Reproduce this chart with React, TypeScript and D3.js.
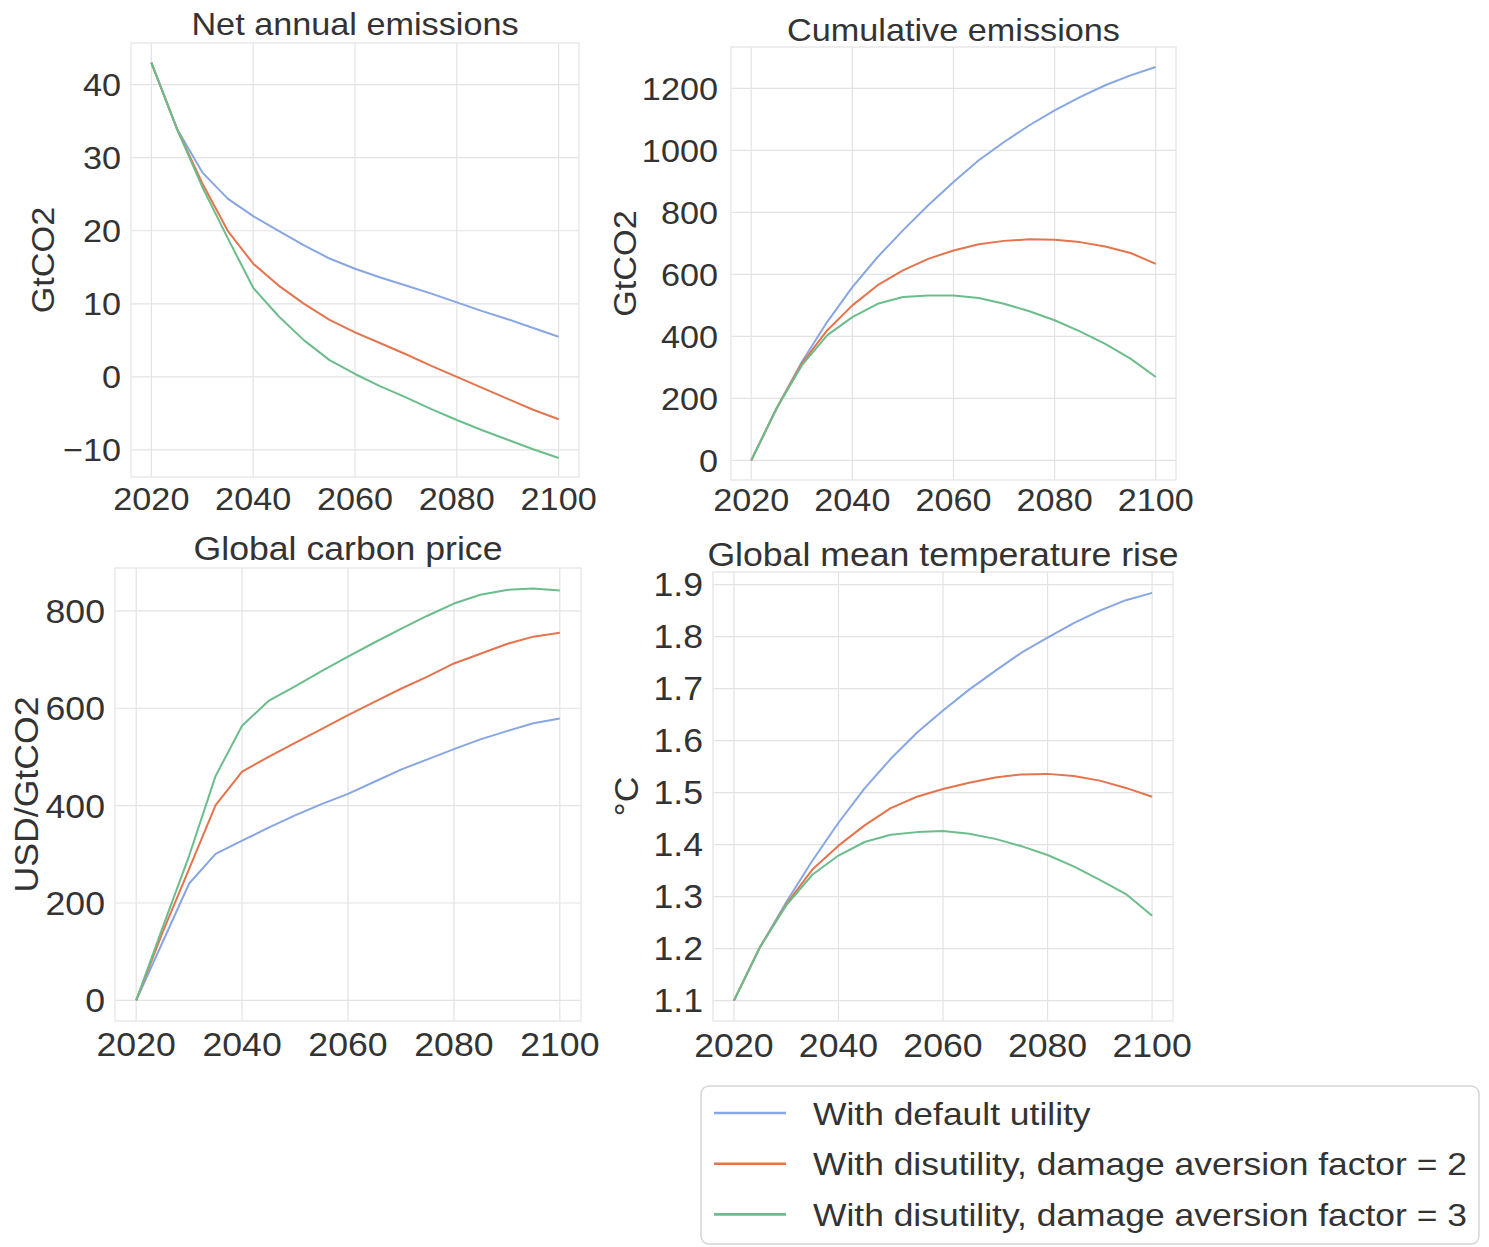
import React from "react";
import * as d3 from "d3";

const YEARS = [2020, 2025, 2030, 2035, 2040, 2045, 2050, 2055, 2060, 2065, 2070, 2075, 2080, 2085, 2090, 2095, 2100];
const X_TICKS = [2020, 2040, 2060, 2080, 2100];

const SERIES_NAMES = [
  "With default utility",
  "With disutility, damage aversion factor = 2",
  "With disutility, damage aversion factor = 3",
];
const SERIES_COLORS = ["#87a6e3", "#e4744d", "#6cbd8b"];

const emissionsDefault = [43, 34, 28, 24.4, 22, 20, 18, 16.2, 14.8, 13.6, 12.5, 11.4, 10.2, 9.0, 7.9, 6.7, 5.5];
const emissionsDA2 = [43, 34, 26.5, 20, 15.5, 12.5, 10, 7.8, 6.1, 4.6, 3.1, 1.5, 0, -1.5, -3, -4.5, -5.8];
const emissionsDA3 = [43, 34, 26, 19, 12.2, 8.3, 5, 2.3, 0.4, -1.3, -2.8, -4.4, -5.9, -7.3, -8.6, -9.9, -11.1];

const cumDefault = [0, 167, 317, 446, 559, 656, 742, 823, 898, 968, 1027, 1081, 1129, 1172, 1210, 1242, 1269];
const cumDA2 = [0, 167, 312, 419, 500, 565, 613, 650, 677, 697, 708, 713, 712, 704, 690, 669, 634];
const cumDA3 = [0, 167, 306, 403, 462, 505, 527, 532, 532, 524, 505, 481, 452, 416, 376, 328, 269];

const priceDefault = [0, 120, 240, 301, 328, 355, 380, 403, 424, 449, 474, 495, 516, 536, 553, 569, 579];
const priceDA2 = [0, 140, 270, 401, 470, 500, 529, 557, 586, 613, 640, 665, 692, 712, 732, 747, 755];
const priceDA3 = [0, 150, 297, 461, 564, 615, 645, 676, 706, 735, 763, 790, 815, 833, 843, 846, 842];

const tempDefault = [1.1, 1.203, 1.289, 1.369, 1.442, 1.508, 1.565, 1.615, 1.658, 1.698, 1.734, 1.769, 1.798, 1.826, 1.85, 1.87, 1.884];
const tempDA2 = [1.1, 1.203, 1.285, 1.352, 1.398, 1.437, 1.47, 1.492, 1.507, 1.519, 1.529, 1.535, 1.536, 1.532, 1.523, 1.509, 1.492];
const tempDA3 = [1.1, 1.203, 1.283, 1.342, 1.379, 1.405, 1.419, 1.424, 1.426, 1.421, 1.411, 1.397, 1.38, 1.358, 1.332, 1.305, 1.263];

const emissionsTicks = [-10, 0, 10, 20, 30, 40];
const cumTicks = [0, 200, 400, 600, 800, 1000, 1200];
const priceTicks = [0, 200, 400, 600, 800];
const tempTicks = [1.1, 1.2, 1.3, 1.4, 1.5, 1.6, 1.7, 1.8, 1.9];

const FONT = "'Liberation Sans', Arial, Helvetica, sans-serif";
const TEXT = "#333333";
const GRID = "#e3e3e3";

function T({ x, y, anchor = "middle", size = 32, sx = 1.05, rotate = 0, children }: any) {
  const tr = `translate(${x},${y})${rotate ? ` rotate(${rotate})` : ""} scale(${sx},1)`;
  return (
    <text transform={tr} textAnchor={anchor} fontFamily={FONT} fontSize={size} fill={TEXT}>
      {children}
    </text>
  );
}

function Panel({ box, xDomain, yDomain, yTicks, fmt, series, title, titleY, yLabel, yLabelX, xLabelY, yTickGap, fs, sx }: any) {
  const x = d3.scaleLinear().domain(xDomain).range([box.left, box.right]);
  const y = d3.scaleLinear().domain(yDomain).range([box.bottom, box.top]);
  const line = d3
    .line<number>()
    .x((_, i) => x(YEARS[i]))
    .y((d) => y(d));
  const cx = (box.left + box.right) / 2;
  const cy = (box.top + box.bottom) / 2;
  return (
    <g>
      <rect x={box.left} y={box.top} width={box.right - box.left} height={box.bottom - box.top} fill="white" stroke={GRID} strokeWidth={1.2} />
      {X_TICKS.map((t) => (
        <line key={"gx" + t} x1={x(t)} x2={x(t)} y1={box.top} y2={box.bottom} stroke={GRID} strokeWidth={1.2} />
      ))}
      {yTicks.map((t: number) => (
        <line key={"gy" + t} x1={box.left} x2={box.right} y1={y(t)} y2={y(t)} stroke={GRID} strokeWidth={1.2} />
      ))}
      {series.map((s: number[], i: number) => (
        <path key={"s" + i} d={line(s) as string} fill="none" stroke={SERIES_COLORS[i]} strokeWidth={2} strokeLinejoin="round" />
      ))}
      {X_TICKS.map((t) => (
        <T key={"xl" + t} x={x(t)} y={xLabelY} size={fs} sx={sx}>
          {String(t)}
        </T>
      ))}
      {yTicks.map((t: number) => (
        <T key={"yl" + t} x={box.left - yTickGap} y={y(t) + fs * 0.36} anchor="end" size={fs} sx={sx}>
          {fmt(t)}
        </T>
      ))}
      <T x={cx} y={titleY} size={fs} sx={sx}>{title}</T>
      <T x={yLabelX} y={cy} rotate={-90} size={fs} sx={sx}>{yLabel}</T>
    </g>
  );
}

export default function App() {
  const fmtInt = (v: number) => (v < 0 ? "\u2212" + Math.abs(v) : String(v));
  const fmt1 = (v: number) => v.toFixed(1);
  return (
    <svg width={1489} height={1247} style={{ position: "absolute", left: 0, top: 0, background: "white" }}>
      <rect x={0} y={0} width={1489} height={1247} fill="white" />
      <Panel
        box={{ left: 131, right: 579, top: 43, bottom: 477 }}
        xDomain={[2016, 2104]}
        yDomain={[-13.7, 45.7]}
        yTicks={emissionsTicks}
        fmt={fmtInt}
        series={[emissionsDefault, emissionsDA2, emissionsDA3]}
        title="Net annual emissions"
        titleY={35}
        yLabel="GtCO2"
        yLabelX={54}
        xLabelY={510}
        yTickGap={10}
        fs={32}
        sx={1.07}
      />
      <Panel
        box={{ left: 731, right: 1176, top: 47, bottom: 480 }}
        xDomain={[2016, 2104]}
        yDomain={[-63.5, 1333.5]}
        yTicks={cumTicks}
        fmt={fmtInt}
        series={[cumDefault, cumDA2, cumDA3]}
        title="Cumulative emissions"
        titleY={41}
        yLabel="GtCO2"
        yLabelX={636}
        xLabelY={511}
        yTickGap={13}
        fs={32}
        sx={1.07}
      />
      <Panel
        box={{ left: 115, right: 581, top: 568, bottom: 1021 }}
        xDomain={[2016, 2104]}
        yDomain={[-42.3, 888]}
        yTicks={priceTicks}
        fmt={fmtInt}
        series={[priceDefault, priceDA2, priceDA3]}
        title="Global carbon price"
        titleY={560}
        yLabel="USD/GtCO2"
        yLabelX={38}
        xLabelY={1056}
        yTickGap={10}
        fs={33}
        sx={1.08}
      />
      <Panel
        box={{ left: 713, right: 1173, top: 572, bottom: 1021 }}
        xDomain={[2016, 2104]}
        yDomain={[1.0608, 1.9242]}
        yTicks={tempTicks}
        fmt={fmt1}
        series={[tempDefault, tempDA2, tempDA3]}
        title="Global mean temperature rise"
        titleY={566}
        yLabel="°C"
        yLabelX={638}
        xLabelY={1057}
        yTickGap={10}
        fs={33}
        sx={1.08}
      />
      <g>
        <rect x={701} y={1086} width={778} height={158} rx={8} fill="white" stroke="#d6d6d6" strokeWidth={1.5} />
        {SERIES_NAMES.map((name, i) => {
          const cy = 1113 + i * 50.7;
          return (
            <g key={name}>
              <line x1={714} x2={786} y1={cy} y2={cy} stroke={SERIES_COLORS[i]} strokeWidth={2.6} />
              <T x={813} y={cy + 11.5} anchor="start" size={32} sx={1.107}>
                {name}
              </T>
            </g>
          );
        })}
      </g>
    </svg>
  );
}
